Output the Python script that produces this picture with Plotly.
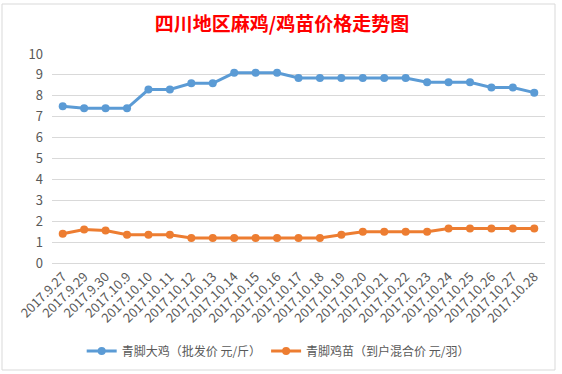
import plotly.graph_objects as go

categories = ["2017.9.27", "2017.9.29", "2017.9.30", "2017.10.9", "2017.10.10", "2017.10.11",
              "2017.10.12", "2017.10.13", "2017.10.14", "2017.10.15", "2017.10.16", "2017.10.17",
              "2017.10.18", "2017.10.19", "2017.10.20", "2017.10.21", "2017.10.22", "2017.10.23",
              "2017.10.24", "2017.10.25", "2017.10.26", "2017.10.27", "2017.10.28"]
chicken_price = [7.5, 7.4, 7.4, 7.4, 8.3, 8.3, 8.6, 8.6, 9.1, 9.1, 9.1, 8.85,
                 8.85, 8.85, 8.85, 8.85, 8.85, 8.65, 8.65, 8.65, 8.4, 8.4, 8.15]
chick_price = [1.4, 1.6, 1.55, 1.35, 1.35, 1.35, 1.2, 1.2, 1.2, 1.2, 1.2, 1.2,
               1.2, 1.35, 1.5, 1.5, 1.5, 1.5, 1.65, 1.65, 1.65, 1.65, 1.65]
series_names = ["青脚大鸡（批发价 元/斤）", "青脚鸡苗（到户混合价 元/羽）"]
title_text = "四川地区麻鸡/鸡苗价格走势图"
y_ticks = list(range(0, 11))

FONT = "Noto Sans CJK SC, Noto Sans, sans-serif"
GRAY = "#595959"

fig = go.Figure()
fig.add_trace(go.Scatter(x=categories, y=chicken_price, name=series_names[0],
                         mode="lines+markers",
                         line=dict(color="#5B9BD5", width=3),
                         marker=dict(color="#5B9BD5", size=8)))
fig.add_trace(go.Scatter(x=categories, y=chick_price, name=series_names[1],
                         mode="lines+markers",
                         line=dict(color="#ED7D31", width=3),
                         marker=dict(color="#ED7D31", size=8)))

fig.update_layout(
    width=562, height=374,
    margin=dict(l=52, r=17, t=54, b=111, autoexpand=False),
    paper_bgcolor="white", plot_bgcolor="white",
    font=dict(family=FONT, color=GRAY, size=12),
    title=dict(text=title_text, x=282/562, xref="container", xanchor="center",
               y=1-24/374, yref="container", yanchor="middle",
               font=dict(family=FONT, size=19, color="#FF0000", weight="bold")),
    showlegend=True,
    legend=dict(orientation="h", x=0.495, xref="container", xanchor="center",
                y=1-351/374, yref="container", yanchor="middle",
                font=dict(family=FONT, size=12, color=GRAY),
                itemwidth=30, tracegroupgap=0),
    xaxis=dict(type="category", tickangle=-45, showgrid=False, automargin=False,
               range=[-0.5, len(categories) - 0.5],
               tickmode="array", tickvals=categories, ticktext=categories,
               showline=True, linecolor="#D9D9D9", linewidth=1,
               ticks="", tickfont=dict(size=13, color=GRAY), zeroline=False),
    yaxis=dict(range=[0, 10], tickvals=y_ticks, showgrid=True, gridcolor="#D9D9D9",
               gridwidth=1, zeroline=False, showline=False, ticks="", automargin=False,
               tickfont=dict(size=13, color=GRAY), ticklabelstandoff=8),
)

# chart area border
fig.add_shape(type="rect", xref="paper", yref="paper",
              x0=(2-52)/493, x1=(555-52)/493, y0=(263-370)/209, y1=(263-4)/209,
              line=dict(color="#D9D9D9", width=1), fillcolor="rgba(0,0,0,0)", layer="below")

fig.write_html("out.html", config={"displayModeBar": False},
               post_script="document.body.style.margin='0';")
